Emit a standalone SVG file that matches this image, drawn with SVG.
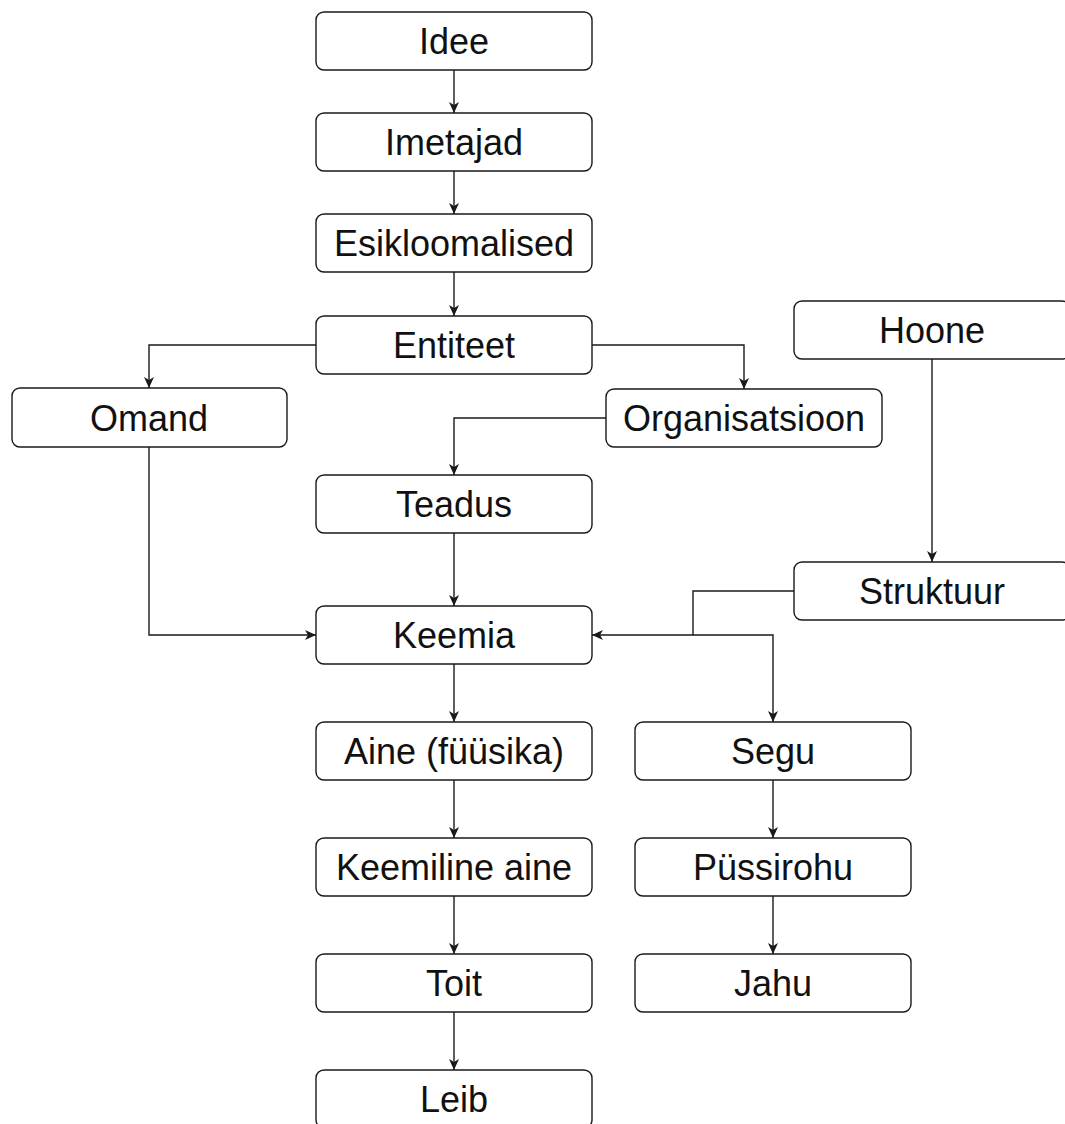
<svg xmlns="http://www.w3.org/2000/svg" width="1065" height="1124" viewBox="0 0 1065 1124">
  <style>
    .box rect { fill: #ffffff; stroke: #1a1a1a; stroke-width: 1.4; }
    .box text { font-family: "Liberation Sans", Arial, sans-serif; font-size: 36px; fill: #111111; text-anchor: middle; }
    .edges path { fill: none; stroke: #1a1a1a; stroke-width: 1.4; marker-end: url(#arrow); }
  </style>
  <defs>
    <marker id="arrow" markerUnits="userSpaceOnUse" markerWidth="12" markerHeight="12" viewBox="0 0 12 10" refX="11" refY="5" orient="auto">
      <path d="M0,0 L11,5 L0,10 L3,5 Z" fill="#1a1a1a"/>
    </marker>
  </defs>
  <rect width="1065" height="1124" fill="#ffffff"/>

  <g class="edges" id="connectors">
    <path d="M454,70 V113"/>
    <path d="M454,171 V214"/>
    <path d="M454,272 V316"/>
    <path d="M316,345 H149 V388"/>
    <path d="M592,345 H744 V389"/>
    <path d="M606,418 H454 V475"/>
    <path d="M454,533 V606"/>
    <path d="M149,447 V635 H316"/>
    <path d="M932,359 V562"/>
    <path d="M794,591 H693 V635 H592"/>
    <path d="M693,635 H773 V722"/>
    <path d="M454,664 V722"/>
    <path d="M454,780 V838"/>
    <path d="M454,896 V954"/>
    <path d="M454,1012 V1070"/>
    <path d="M773,780 V838"/>
    <path d="M773,896 V954"/>
  </g>

  <g class="box" id="idee"><rect x="316" y="12" width="276" height="58" rx="8"/><text x="454" y="54">Idee</text></g>
  <g class="box" id="imetajad"><rect x="316" y="113" width="276" height="58" rx="8"/><text x="454" y="155">Imetajad</text></g>
  <g class="box" id="esikloomalised"><rect x="316" y="214" width="276" height="58" rx="8"/><text x="454" y="256">Esikloomalised</text></g>
  <g class="box" id="entiteet"><rect x="316" y="316" width="276" height="58" rx="8"/><text x="454" y="358">Entiteet</text></g>
  <g class="box" id="omand"><rect x="12" y="388" width="275" height="59" rx="8"/><text x="149" y="431">Omand</text></g>
  <g class="box" id="organisatsioon"><rect x="606" y="389" width="276" height="58" rx="8"/><text x="744" y="431">Organisatsioon</text></g>
  <g class="box" id="hoone"><rect x="794" y="301" width="276" height="58" rx="8"/><text x="932" y="343">Hoone</text></g>
  <g class="box" id="teadus"><rect x="316" y="475" width="276" height="58" rx="8"/><text x="454" y="517">Teadus</text></g>
  <g class="box" id="struktuur"><rect x="794" y="562" width="276" height="58" rx="8"/><text x="932" y="604">Struktuur</text></g>
  <g class="box" id="keemia"><rect x="316" y="606" width="276" height="58" rx="8"/><text x="454" y="648">Keemia</text></g>
  <g class="box" id="aine"><rect x="316" y="722" width="276" height="58" rx="8"/><text x="454" y="764">Aine (füüsika)</text></g>
  <g class="box" id="segu"><rect x="635" y="722" width="276" height="58" rx="8"/><text x="773" y="764">Segu</text></g>
  <g class="box" id="keemiline-aine"><rect x="316" y="838" width="276" height="58" rx="8"/><text x="454" y="880">Keemiline aine</text></g>
  <g class="box" id="pussirohu"><rect x="635" y="838" width="276" height="58" rx="8"/><text x="773" y="880">Püssirohu</text></g>
  <g class="box" id="toit"><rect x="316" y="954" width="276" height="58" rx="8"/><text x="454" y="996">Toit</text></g>
  <g class="box" id="jahu"><rect x="635" y="954" width="276" height="58" rx="8"/><text x="773" y="996">Jahu</text></g>
  <g class="box" id="leib"><rect x="316" y="1070" width="276" height="58" rx="8"/><text x="454" y="1112">Leib</text></g>
</svg>
